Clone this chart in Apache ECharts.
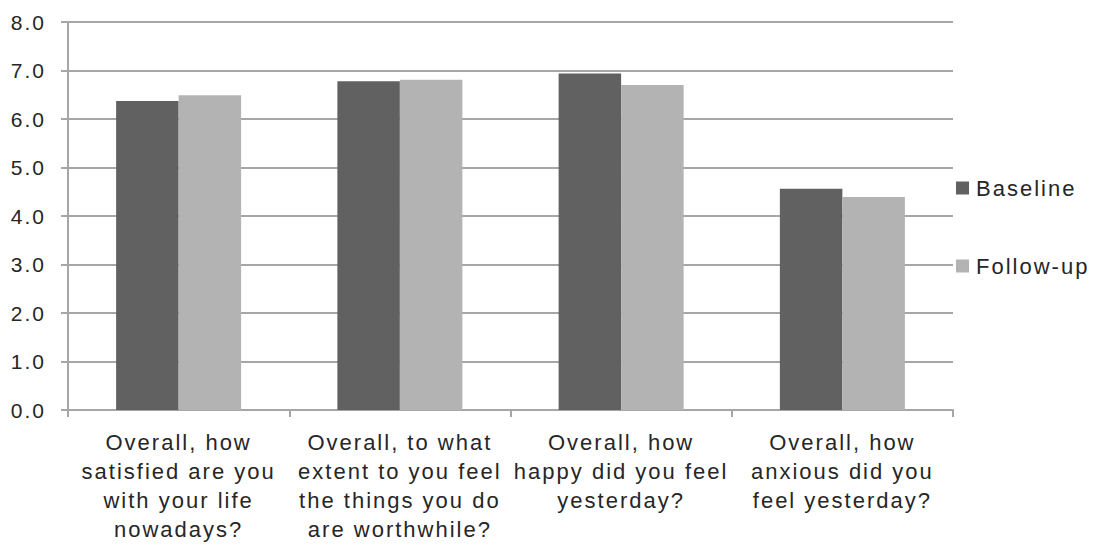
<!DOCTYPE html>
<html>
<head>
<meta charset="utf-8">
<script src="https://cdn.jsdelivr.net/npm/echarts@6/dist/echarts.min.js"></script>
<style>
  html, body { margin: 0; padding: 0; background: #ffffff; }
  /* the SVG text inherits this spacing */
  #chart { width: 1099px; height: 550px; letter-spacing: 2px; }
</style>
</head>
<body>
<div id="chart"></div>
<script>
// Survey questions (wrapped onto the lines shown under each group)
const categories = [
  'Overall, how\nsatisfied are you\nwith your life\nnowadays?',
  'Overall, to what\nextent to you feel\nthe things you do\nare worthwhile?',
  'Overall, how\nhappy did you feel\nyesterday?',
  'Overall, how\nanxious did you\nfeel yesterday?'
];
const seriesNames = ['Baseline', 'Follow-up'];
const baselineValues = [6.37, 6.78, 6.94, 4.56];
const followUpValues = [6.49, 6.81, 6.70, 4.39];
const yTicks = { min: 0, max: 8, interval: 1 };

const textColor = '#262626';
const gridColor = '#a6a6a6';
const fontFamily = 'Liberation Sans, Arial, sans-serif';

const chart = echarts.init(document.getElementById('chart'), null, { renderer: 'svg' });

chart.setOption({
  animation: false,
  backgroundColor: '#ffffff',
  grid: { left: 68, right: 146, top: 22, bottom: 140, containLabel: false },
  legend: {
    orient: 'vertical',
    left: 951,
    top: 172,
    itemWidth: 13,
    itemHeight: 13,
    itemGap: 56,
    icon: 'rect',
    textStyle: { color: textColor, fontSize: 22, lineHeight: 22, fontFamily: fontFamily, padding: [0, 0, 0, 2] },
    data: seriesNames
  },
  xAxis: {
    type: 'category',
    data: categories,
    axisLine: { lineStyle: { color: gridColor, width: 2 } },
    axisTick: { show: true, alignWithLabel: false, length: 7, lineStyle: { color: gridColor, width: 2 } },
    axisLabel: {
      color: textColor,
      fontSize: 22,
      fontFamily: fontFamily,
      lineHeight: 29,
      margin: 18,
      interval: 0,
      align: 'center'
    }
  },
  yAxis: {
    type: 'value',
    min: yTicks.min,
    max: yTicks.max,
    interval: yTicks.interval,
    axisLine: { show: true, lineStyle: { color: gridColor, width: 2 } },
    axisTick: { show: true, length: 7, lineStyle: { color: gridColor, width: 2 } },
    splitLine: { lineStyle: { color: gridColor, width: 2 } },
    axisLabel: {
      color: textColor,
      fontSize: 21,
      fontFamily: fontFamily,
      margin: 22,
      formatter: v => v.toFixed(1)
    }
  },
  series: [
    {
      name: seriesNames[0],
      type: 'bar',
      data: baselineValues,
      itemStyle: { color: '#616161' },
      barGap: '0%',
      barCategoryGap: '43.5%'
    },
    {
      name: seriesNames[1],
      type: 'bar',
      data: followUpValues,
      itemStyle: { color: '#b3b3b3' },
      barGap: '0%',
      barCategoryGap: '43.5%'
    }
  ]
});
</script>
</body>
</html>
